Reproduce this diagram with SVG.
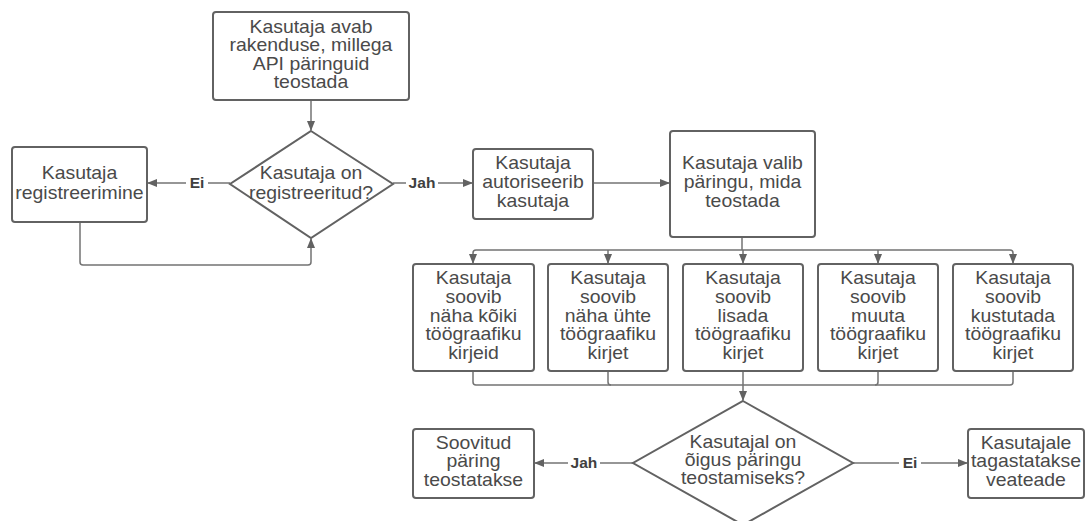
<svg xmlns="http://www.w3.org/2000/svg" width="1086" height="521" viewBox="0 0 1086 521">
<style>
.box{fill:#fff;stroke:#626262;stroke-width:2}
.t{font-family:"Liberation Sans",Arial,sans-serif;font-size:17.5px;fill:#4a4a4a;text-anchor:middle;transform-box:fill-box;transform-origin:center;transform:scaleX(1.11)}
.lbl{font-family:"Liberation Sans",Arial,sans-serif;font-size:14px;font-weight:bold;fill:#404040;text-anchor:middle;transform-box:fill-box;transform-origin:center;transform:scaleX(1.11)}
.c{fill:none;stroke:#737373;stroke-width:1.5}
</style>
<defs>
<marker id="ah" markerWidth="10" markerHeight="8" refX="9" refY="4" orient="auto" markerUnits="userSpaceOnUse">
<path d="M0,0 L10,4 L0,8 z" fill="#626262"/>
</marker>
</defs>
<rect width="1086" height="521" fill="#fff"/>
<g id="connectors">
<path class="c" d="M311,100 V130" marker-end="url(#ah)"/>
<path class="c" d="M230,183 H148" marker-end="url(#ah)"/>
<path class="c" d="M80,222 V262 Q80,265 83,265 H308 Q311,265 311,262 V239" marker-end="url(#ah)"/>
<path class="c" d="M393,183 H472" marker-end="url(#ah)"/>
<path class="c" d="M593,183 H669" marker-end="url(#ah)"/>
<path class="c" d="M742,237 V250"/>
<path class="c" d="M742,250 H476 Q473,250 473,253 V263" marker-end="url(#ah)"/>
<path class="c" d="M608,250 V263" marker-end="url(#ah)"/>
<path class="c" d="M743,250 V263" marker-end="url(#ah)"/>
<path class="c" d="M742,250 H1010 Q1013,250 1013,253 V263" marker-end="url(#ah)"/>
<path class="c" d="M878,250 V263" marker-end="url(#ah)"/>
<path class="c" d="M473,371 V382 Q473,385 476,385 H1010 Q1013,385 1013,382 V371"/>
<path class="c" d="M608,371 V382 Q608,385 611,385"/>
<path class="c" d="M878,371 V382 Q878,385 875,385"/>
<path class="c" d="M743,371 V400" marker-end="url(#ah)"/>
<path class="c" d="M633,463 H535" marker-end="url(#ah)"/>
<path class="c" d="M853,463 H967" marker-end="url(#ah)"/>
<rect x="186" y="174" width="22" height="18" fill="#fff"/>
<text class="lbl" x="197" y="188">Ei</text>
<rect x="406" y="174" width="32" height="18" fill="#fff"/>
<text class="lbl" x="422" y="188">Jah</text>
<rect x="568" y="454" width="32" height="18" fill="#fff"/>
<text class="lbl" x="584" y="468">Jah</text>
<rect x="899" y="454" width="22" height="18" fill="#fff"/>
<text class="lbl" x="910" y="468">Ei</text>
</g>
<g id="start">
<rect class="box" x="213" y="12" width="196" height="88" rx="3"/>
<text class="t" x="311" y="33">Kasutaja avab</text>
<text class="t" x="311" y="51.5">rakenduse, millega</text>
<text class="t" x="311" y="70">API päringuid</text>
<text class="t" x="311" y="88.5">teostada</text>
</g>
<g id="registered">
<path class="box" d="M311,131 L393,184 L311,238 L230,184 z"/>
<text class="t" x="311" y="179">Kasutaja on</text>
<text class="t" x="311" y="199">registreeritud?</text>
</g>
<g id="register">
<rect class="box" x="12" y="147" width="135" height="75" rx="3"/>
<text class="t" x="79.5" y="179">Kasutaja</text>
<text class="t" x="79.5" y="199">registreerimine</text>
</g>
<g id="authorize">
<rect class="box" x="473" y="149" width="120" height="70" rx="3"/>
<text class="t" x="533" y="169">Kasutaja</text>
<text class="t" x="533" y="188.5">autoriseerib</text>
<text class="t" x="533" y="207.5">kasutaja</text>
</g>
<g id="choose">
<rect class="box" x="670" y="131" width="145" height="106" rx="3"/>
<text class="t" x="742.5" y="169">Kasutaja valib</text>
<text class="t" x="742.5" y="188.5">päringu, mida</text>
<text class="t" x="742.5" y="207.5">teostada</text>
</g>
<g id="opt1">
<rect class="box" x="413" y="264" width="121" height="107" rx="3"/>
<text class="t" x="473.5" y="284">Kasutaja</text>
<text class="t" x="473.5" y="303">soovib</text>
<text class="t" x="473.5" y="322">näha kõiki</text>
<text class="t" x="473.5" y="340.5">töögraafiku</text>
<text class="t" x="473.5" y="359">kirjeid</text>
</g>
<g id="opt2">
<rect class="box" x="548" y="264" width="120" height="107" rx="3"/>
<text class="t" x="608" y="284">Kasutaja</text>
<text class="t" x="608" y="303">soovib</text>
<text class="t" x="608" y="322">näha ühte</text>
<text class="t" x="608" y="340.5">töögraafiku</text>
<text class="t" x="608" y="359">kirjet</text>
</g>
<g id="opt3">
<rect class="box" x="683" y="264" width="120" height="107" rx="3"/>
<text class="t" x="743" y="284">Kasutaja</text>
<text class="t" x="743" y="303">soovib</text>
<text class="t" x="743" y="322">lisada</text>
<text class="t" x="743" y="340.5">töögraafiku</text>
<text class="t" x="743" y="359">kirjet</text>
</g>
<g id="opt4">
<rect class="box" x="818" y="264" width="120" height="107" rx="3"/>
<text class="t" x="878" y="284">Kasutaja</text>
<text class="t" x="878" y="303">soovib</text>
<text class="t" x="878" y="322">muuta</text>
<text class="t" x="878" y="340.5">töögraafiku</text>
<text class="t" x="878" y="359">kirjet</text>
</g>
<g id="opt5">
<rect class="box" x="953" y="264" width="120" height="107" rx="3"/>
<text class="t" x="1013" y="284">Kasutaja</text>
<text class="t" x="1013" y="303">soovib</text>
<text class="t" x="1013" y="322">kustutada</text>
<text class="t" x="1013" y="340.5">töögraafiku</text>
<text class="t" x="1013" y="359">kirjet</text>
</g>
<g id="permission">
<path class="box" d="M743,401 L853,463 L743,525 L633,463 z"/>
<text class="t" x="743" y="448">Kasutajal on</text>
<text class="t" x="743" y="466">õigus päringu</text>
<text class="t" x="743" y="484">teostamiseks?</text>
</g>
<g id="success">
<rect class="box" x="413" y="429" width="121" height="69" rx="3"/>
<text class="t" x="473.5" y="449">Soovitud</text>
<text class="t" x="473.5" y="467">päring</text>
<text class="t" x="473.5" y="486">teostatakse</text>
</g>
<g id="error">
<rect class="box" x="968" y="429" width="116" height="69" rx="3"/>
<text class="t" x="1026" y="449">Kasutajale</text>
<text class="t" x="1026" y="467">tagastatakse</text>
<text class="t" x="1026" y="486">veateade</text>
</g>
</svg>
